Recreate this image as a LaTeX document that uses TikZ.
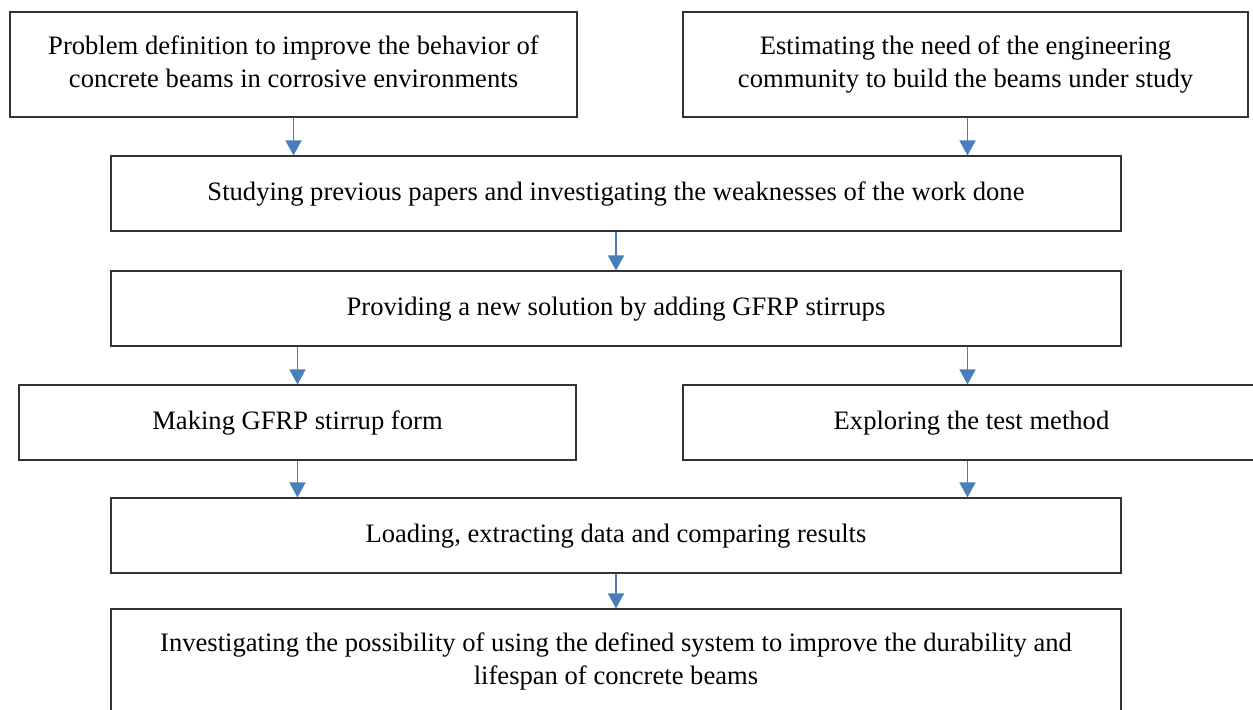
\documentclass[tikz,border=0pt]{standalone}
\usepackage{fontspec}
\setmainfont{Liberation Serif}
\usepackage{xcolor}
\usepackage{tikz}
\usetikzlibrary{arrows.meta,positioning,calc}
\definecolor{arrowblue}{RGB}{74,126,187}

\begin{document}
\begin{tikzpicture}[x=0.5pt, y=-0.5pt,
    box/.style={draw=black!80, line width=0.55pt, align=center, inner sep=0pt,
                minimum height=37.5pt, font=\fontsize{13.3}{16.5}\selectfont},
    tall/.style={minimum height=52.5pt},
    wide/.style={minimum width=505pt},
    flow/.style={arrowblue, line width=0.8pt, -{Triangle[width=8pt,length=7.5pt]}}]
    % Khung trang
    \useasboundingbox (0,0) rectangle (1253,709);
    \clip (0,0) rectangle (1253,709);

    % Hai khối trên cùng
    \node[box, tall, minimum width=283.5pt] (problem) at (293.5,64.5)
        {\strut Problem definition to improve the behavior of\\concrete beams in corrosive environments\strut};
    \node[box, tall, minimum width=282.5pt] (need) at (965.5,64.5)
        {\strut Estimating the need of the engineering\\community to build the beams under study\strut};

    % Các khối giữa
    \node[box, wide] (papers) at (616,193.5)
        {\strut Studying previous papers and investigating the weaknesses of the work done};
    \node[box, wide] (solution) at (616,308.5)
        {\strut Providing a new solution by adding GFRP stirrups};
    \node[box, minimum width=278.5pt] (stirrup) at (297.5,422.5)
        {\strut Making GFRP stirrup form};
    \node[box, minimum width=288.5pt] (test) at (971.5,422.5)
        {\strut Exploring the test method};
    \node[box, wide] (loading) at (616,535.5)
        {\strut Loading, extracting data and comparing results};

    % Khối cuối (bị cắt ở mép dưới)
    \node[box, tall, wide] (durability) at (616,661.5)
        {\strut Investigating the possibility of using the defined system to improve the durability and\\lifespan of concrete beams\strut};

    % Mũi tên
    \draw[flow] (problem.south) -- (problem.south |- papers.north);
    \draw[flow] ([xshift=1pt]need.south) -- ([xshift=1pt]need.south |- papers.north);
    \draw[flow] (papers) -- (solution);
    \draw[flow] (stirrup.north |- solution.south) -- (stirrup.north);
    \draw[flow] ([xshift=1pt]need.south |- solution.south) -- ([xshift=1pt]need.south |- test.north);
    \draw[flow] (stirrup.south) -- (stirrup.south |- loading.north);
    \draw[flow] ([xshift=1pt]need.south |- test.south) -- ([xshift=1pt]need.south |- loading.north);
    \draw[flow] (loading) -- (durability);
\end{tikzpicture}
\end{document}
